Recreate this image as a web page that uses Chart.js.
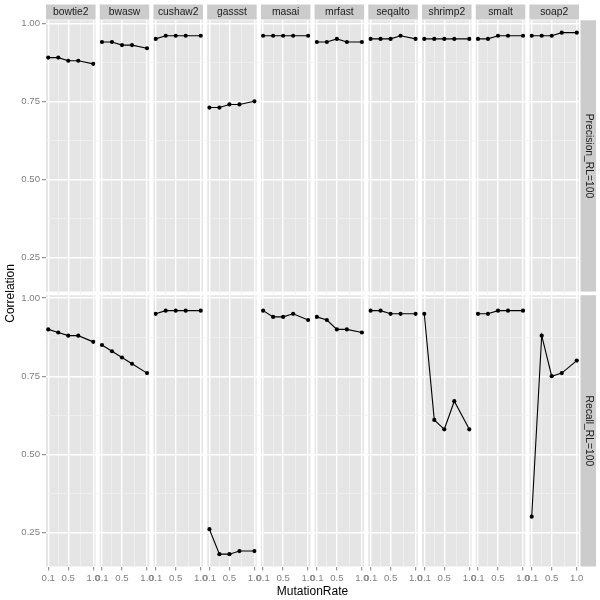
<!DOCTYPE html>
<html>
<head>
<meta charset="utf-8">
<script src="https://cdn.jsdelivr.net/npm/chart.js@4.4.1/dist/chart.umd.min.js"></script>
<style>
body { margin: 0; background: #fff; }
</style>
</head>
<body>
<canvas id="chart" width="600" height="600"></canvas>
<script>
// facet columns / rows
var methods = ['bowtie2', 'bwasw', 'cushaw2', 'gassst', 'masai', 'mrfast', 'seqalto', 'shrimp2', 'smalt', 'soap2'];
var rowLabels = ['Precision_RL=100', 'Recall_RL=100'];
var mutationRates = [0.1, 0.3, 0.5, 0.7, 1.0];

// one row per method, values at each mutation rate
var precision = [
	[0.89, 0.89, 0.88, 0.88, 0.87],
	[0.94, 0.94, 0.93, 0.93, 0.92],
	[0.95, 0.96, 0.96, 0.96, 0.96],
	[0.73, 0.73, 0.74, 0.74, 0.75],
	[0.96, 0.96, 0.96, 0.96, 0.96],
	[0.94, 0.94, 0.95, 0.94, 0.94],
	[0.95, 0.95, 0.95, 0.96, 0.95],
	[0.95, 0.95, 0.95, 0.95, 0.95],
	[0.95, 0.95, 0.96, 0.96, 0.96],
	[0.96, 0.96, 0.96, 0.97, 0.97]
];
var recall = [
	[0.90, 0.89, 0.88, 0.88, 0.86],
	[0.85, 0.83, 0.81, 0.79, 0.76],
	[0.95, 0.96, 0.96, 0.96, 0.96],
	[0.26, 0.18, 0.18, 0.19, 0.19],
	[0.96, 0.94, 0.94, 0.95, 0.93],
	[0.94, 0.93, 0.90, 0.90, 0.89],
	[0.96, 0.96, 0.95, 0.95, 0.95],
	[0.95, 0.61, 0.58, 0.67, 0.58],
	[0.95, 0.95, 0.96, 0.96, 0.96],
	[0.30, 0.88, 0.75, 0.76, 0.80]
];

// axis breaks (major ones get labels)
var xBreaks = [0.1, 0.3, 0.5, 0.75, 1.0];
var xMajor = [0.1, 0.5, 1.0];
var yBreaks = [0.25, 0.375, 0.5, 0.625, 0.75, 0.875, 1.0];
var yMajor = [0.25, 0.5, 0.75, 1.0];
var xRange = [0.055, 1.045];
var yRange = [0.1405, 1.0095];

var FONT = '"Liberation Sans", Arial, sans-serif';
Chart.defaults.font.family = FONT;

var yIds = ['yP', 'yR'];
var rows = [precision, recall];

var isMajor = function(list, v) {
	for (var i = 0; i < list.length; i++) {
		if (Math.abs(list[i] - v) < 1e-9) return true;
	}
	return false;
};

var gridOpts = function(major) {
	return {
		color: function(c) { return c.tick && isMajor(major, c.tick.value) ? '#ffffff' : '#f2f2f2'; },
		lineWidth: function(c) { return c.tick && isMajor(major, c.tick.value) ? 1.4 : 0.7; },
		tickColor: function(c) { return c.tick && isMajor(major, c.tick.value) ? '#7f7f7f' : 'rgba(0,0,0,0)'; },
		tickLength: 4,
		tickWidth: 1
	};
};

var datasets = [];
rows.forEach(function(rowData, r) {
	methods.forEach(function(m, i) {
		datasets.push({
			label: m + ' ' + rowLabels[r],
			data: mutationRates.map(function(x, k) { return {x: x, y: rowData[i][k]}; }),
			xAxisID: 'x' + i,
			yAxisID: yIds[r],
			borderColor: '#000000',
			backgroundColor: '#000000',
			borderWidth: 1.1,
			pointRadius: 2.1,
			pointBorderWidth: 0,
			tension: 0
		});
	});
});

var scales = {};
methods.forEach(function(m, i) {
	scales['x' + i] = {
		type: 'linear', axis: 'x', position: 'bottom',
		stack: 'cols', stackWeight: 49.5, weight: 2 * i,
		min: xRange[0], max: xRange[1],
		afterBuildTicks: function(s) { s.ticks = xBreaks.map(function(v) { return {value: v}; }); },
		afterFit: function(s) { s.height = 18; },
		grid: gridOpts(xMajor),
		border: {display: false},
		ticks: {
			autoSkip: false, maxRotation: 0, minRotation: 0, padding: 2,
			color: '#7f7f7f', font: {size: 9.6},
			callback: function(v) { return isMajor(xMajor, v) ? v.toFixed(1) : ''; }
		}
	};
	if (i < methods.length - 1) {
		scales['gx' + i] = {
			type: 'linear', axis: 'x', position: 'bottom',
			stack: 'cols', stackWeight: 4.17, weight: 2 * i + 1,
			display: false, min: 0, max: 1
		};
	}
});

var yScale = function(weight) {
	return {
		type: 'linear', axis: 'y', position: 'left',
		stack: 'rows', stackWeight: 271.3, weight: weight,
		min: yRange[0], max: yRange[1],
		afterBuildTicks: function(s) { s.ticks = yBreaks.map(function(v) { return {value: v}; }); },
		afterFit: function(s) { s.width = 27.6; },
		grid: gridOpts(yMajor),
		border: {display: false},
		ticks: {
			padding: 2, color: '#7f7f7f', font: {size: 9.6},
			callback: function(v) { return isMajor(yMajor, v) ? v.toFixed(2) : ''; }
		}
	};
};
scales.yP = yScale(3);
scales.gy = {
	type: 'linear', axis: 'y', position: 'left',
	stack: 'rows', stackWeight: 3.6, weight: 2,
	display: false, min: 0, max: 1
};
scales.yR = yScale(1);

// grey panels and facet strips, placed from the scales
var facetPlugin = {
	id: 'facets',
	beforeDraw: function(chart) {
		var ctx = chart.ctx;
		var area = chart.chartArea;
		ctx.save();
		ctx.font = '10.3px ' + FONT;
		ctx.textAlign = 'center';
		ctx.textBaseline = 'middle';
		methods.forEach(function(m, i) {
			var xs = chart.scales['x' + i];
			yIds.forEach(function(id) {
				var ys = chart.scales[id];
				ctx.fillStyle = '#e5e5e5';
				ctx.fillRect(xs.left, ys.top, xs.right - xs.left, ys.bottom - ys.top);
			});
			ctx.fillStyle = '#cccccc';
			ctx.fillRect(xs.left, area.top - 15.8, xs.right - xs.left, 15);
			ctx.fillStyle = '#1a1a1a';
			ctx.fillText(m, (xs.left + xs.right) / 2, area.top - 8.1);
		});
		yIds.forEach(function(id, r) {
			var ys = chart.scales[id];
			ctx.fillStyle = '#cccccc';
			ctx.fillRect(area.right + 1.5, ys.top, 15.5, ys.bottom - ys.top);
			ctx.save();
			ctx.translate(area.right + 9.4, (ys.top + ys.bottom) / 2);
			ctx.rotate(Math.PI / 2);
			ctx.fillStyle = '#1a1a1a';
			ctx.fillText(rowLabels[r], 0, 0);
			ctx.restore();
		});
		ctx.restore();
	}
};

var ctx = document.getElementById('chart').getContext('2d');
var myChart = new Chart(ctx, {
	type: 'line',
	data: {datasets: datasets},
	options: {
		responsive: false,
		animation: false,
		devicePixelRatio: 1,
		layout: {padding: {top: 20.3, right: 21, bottom: 0, left: 0}},
		scales: scales,
		plugins: {
			legend: {display: false},
			tooltip: {enabled: false},
			title: {
				display: true, text: 'MutationRate', position: 'bottom', fullSize: false,
				color: '#000000', font: {size: 12, weight: 'normal'},
				padding: {top: 0, bottom: 1.1}
			},
			subtitle: {
				display: true, text: 'Correlation', position: 'left', fullSize: false,
				color: '#000000', font: {size: 12, weight: 'normal'},
				padding: {top: 3, bottom: 1}
			}
		}
	},
	plugins: [facetPlugin]
});
</script>
</body>
</html>
